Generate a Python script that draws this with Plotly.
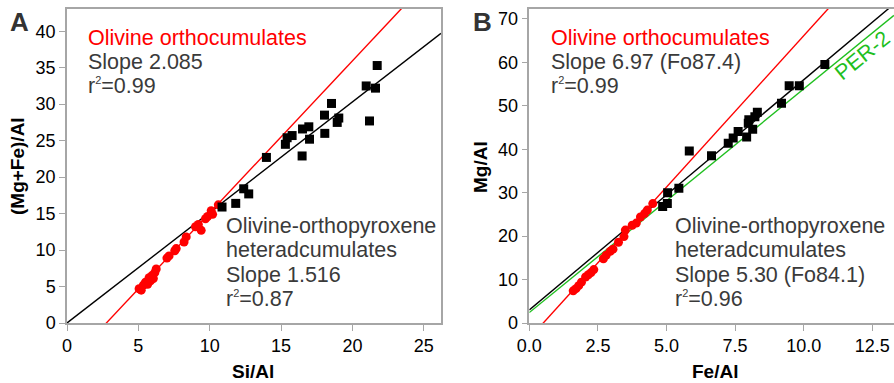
import plotly.graph_objects as go

# ---- Panel A: Si/Al vs (Mg+Fe)/Al ----
a_ortho_si = [5.05, 5.2, 5.35, 5.5, 5.65, 5.75, 5.85, 5.95, 6.05, 6.15, 6.25,
              7.0, 7.15, 7.55, 7.65, 8.2, 8.35, 9.0, 9.2, 9.4, 9.7, 9.85, 10.1, 10.2, 10.6]
a_ortho_mgfe = [4.7, 4.5, 5.2, 5.6, 5.3, 6.2, 5.8, 6.5, 6.1, 6.9, 7.4,
                8.9, 9.2, 9.9, 10.2, 11.1, 11.8, 13.2, 13.5, 12.7, 14.3, 14.6, 15.4, 14.9, 16.2]
a_hetero_si = [10.86, 11.82, 12.38, 12.73, 13.97, 15.3, 15.42, 15.77, 16.47, 16.5, 16.94,
               16.99, 18.04, 18.06, 18.53, 18.93, 19.04, 20.96, 21.19, 21.61, 21.73]
a_hetero_mgfe = [15.9, 16.4, 18.4, 17.7, 22.7, 24.5, 25.4, 25.7, 22.9, 26.6, 26.9,
                 25.2, 28.5, 26.0, 30.1, 27.5, 28.1, 32.5, 27.7, 32.2, 35.3]

# fitted trends: slope, intercept
a_ortho_fit = (2.085, -5.75)
a_hetero_fit = (1.516, 0.0)

# ---- Panel B: Fe/Al vs Mg/Al ----
b_ortho_fe = [1.6, 1.7, 1.8, 1.9, 2.05, 2.15, 2.25, 2.35, 2.7, 2.8, 2.95, 3.05,
              3.25, 3.45, 3.5, 3.75, 3.9, 4.05, 4.2, 4.3, 4.5]
b_ortho_mg = [7.4, 7.9, 8.6, 9.4, 10.6, 11.1, 11.6, 12.3, 14.8, 15.6, 16.5, 17.0,
              18.6, 19.9, 21.4, 22.5, 23.0, 24.4, 25.2, 26.0, 27.5]
b_hetero_fe = [4.86, 5.03, 5.04, 5.45, 5.83, 6.64, 7.25, 7.43, 7.61, 7.92, 7.98, 8.0,
               8.14, 8.22, 8.31, 9.19, 9.47, 9.84, 10.77]
b_hetero_mg = [26.8, 27.5, 30.0, 31.0, 39.6, 38.5, 41.4, 42.6, 44.1, 42.8, 46.0, 46.8,
               44.6, 47.5, 48.5, 50.6, 54.6, 54.6, 59.5]

b_ortho_fit = (6.97, -3.55)
b_hetero_fit = (5.30, 3.0)
b_per2_fit = (5.15, 2.4)

a_xticks = [0, 5, 10, 15, 20, 25]
a_yticks = [0, 5, 10, 15, 20, 25, 30, 35, 40]
b_xticks = [0.0, 2.5, 5.0, 7.5, 10.0, 12.5]
b_yticks = [0, 10, 20, 30, 40, 50, 60, 70]

A_XMAX, A_YMAX = 26.2, 43.05
B_XMAX, B_YMAX = 13.29, 72.3

RED = "#ff0000"
GREEN = "#1fbf1f"
GRAY_TXT = "#3a3a3a"
AXIS_GRAY = "#a6a6a6"
FONT = "Liberation Sans, Arial, sans-serif"

# figure geometry (pixels)
W, H = 894, 383
ML, MR, MT, MB = 67, 0, 9, 60
PW, PH = W - ML - MR, H - MT - MB


def paper(px, py):
    return (px - ML) / PW, (H - MB - py) / PH


def line_pts(fit, xmax):
    m, c = fit
    xs = [0.0, xmax]
    return xs, [m * x + c for x in xs]


fig = go.Figure()

for fit, color in [(a_ortho_fit, RED), (a_hetero_fit, "black")]:
    xs, ys = line_pts(fit, A_XMAX)
    fig.add_trace(go.Scatter(x=xs, y=ys, mode="lines", line=dict(color=color, width=1.4),
                             xaxis="x", yaxis="y", hoverinfo="skip"))
for fit, color in [(b_per2_fit, GREEN), (b_ortho_fit, RED), (b_hetero_fit, "black")]:
    xs, ys = line_pts(fit, B_XMAX)
    fig.add_trace(go.Scatter(x=xs, y=ys, mode="lines", line=dict(color=color, width=1.4),
                             xaxis="x2", yaxis="y2", hoverinfo="skip"))

fig.add_trace(go.Scatter(x=a_ortho_si, y=a_ortho_mgfe, mode="markers",
                         marker=dict(symbol="circle", size=9, color=RED),
                         xaxis="x", yaxis="y"))
fig.add_trace(go.Scatter(x=a_hetero_si, y=a_hetero_mgfe, mode="markers",
                         marker=dict(symbol="square", size=9, color="black"),
                         xaxis="x", yaxis="y"))
fig.add_trace(go.Scatter(x=b_ortho_fe, y=b_ortho_mg, mode="markers",
                         marker=dict(symbol="circle", size=9, color=RED),
                         xaxis="x2", yaxis="y2"))
fig.add_trace(go.Scatter(x=b_hetero_fe, y=b_hetero_mg, mode="markers",
                         marker=dict(symbol="square", size=9, color="black"),
                         xaxis="x2", yaxis="y2"))

axis_common = dict(showgrid=False, zeroline=False, showline=True, linecolor=AXIS_GRAY,
                   linewidth=1.5, ticks="outside", ticklen=6, tickcolor=AXIS_GRAY,
                   tickwidth=1.2, tickfont=dict(family=FONT, size=18, color="black"))

xa_end = (441 - ML) / PW
xb_start = (529.3 - ML) / PW

fig.update_layout(
    width=W, height=H, margin=dict(l=ML, r=MR, t=MT, b=MB),
    paper_bgcolor="white", plot_bgcolor="white", showlegend=False,
    xaxis=dict(domain=[0, xa_end], range=[0, A_XMAX], tickvals=a_xticks,
               mirror=True, anchor="y", **axis_common),
    yaxis=dict(domain=[0, 1], range=[0, A_YMAX], tickvals=a_yticks,
               mirror=True, anchor="x", **axis_common),
    xaxis2=dict(domain=[xb_start, 1], range=[0, B_XMAX], tickvals=b_xticks,
                tickformat=".1f", mirror=True, anchor="y2", **axis_common),
    yaxis2=dict(domain=[0, 1], range=[0, B_YMAX], tickvals=b_yticks,
                mirror=False, anchor="x2", **axis_common),
)


def text(px, py, s, size=21.5, color=GRAY_TXT, xanchor="left", bold=False, angle=0):
    x, y = paper(px, py)
    fig.add_annotation(x=x, y=y, xref="paper", yref="paper", text=s, showarrow=False,
                       xanchor=xanchor, yanchor="middle", textangle=angle,
                       font=dict(family=FONT, size=size, color=color,
                                 weight="bold" if bold else "normal"))


def r2(v):
    return "r<sup><span style='font-size:11px'>2</span></sup>=" + v


# panel letters
text(8, 22, "A", size=26, color="#333333", bold=True)
text(471, 22, "B", size=26, color="#333333", bold=True)

# axis titles
text(253, 371, "Si/Al", size=19, color="black", xanchor="center", bold=True)
text(715, 371, "Fe/Al", size=19, color="black", xanchor="center", bold=True)
text(17, 166, "(Mg+Fe)/Al", size=19, color="black", xanchor="center", bold=True, angle=-90)
text(480, 167, "Mg/Al", size=19, color="black", xanchor="center", bold=True, angle=-90)

# panel A labels
base = [38, 62, 86]
text(86, base[0], "Olivine orthocumulates", color=RED)
text(86, base[1], "Slope 2.085")
text(86, base[2], r2("0.99"))
low = [226, 250, 275, 299]
text(224, low[0], "Olivine-orthopyroxene")
text(224, low[1], "heteradcumulates")
text(224, low[2], "Slope 1.516")
text(224, low[3], r2("0.87"))

# panel B labels
text(549, base[0], "Olivine orthocumulates", color=RED)
text(549, base[1], "Slope 6.97 (Fo87.4)")
text(549, base[2], r2("0.99"))
text(673, low[0], "Olivine-orthopyroxene")
text(673, low[1], "heteradcumulates")
text(673, low[2], "Slope 5.30 (Fo84.1)")
text(673, low[3], r2("0.96"))
text(862, 56, "PER-2", color=GREEN, xanchor="center", angle=-39)

fig.write_html("out.html")
